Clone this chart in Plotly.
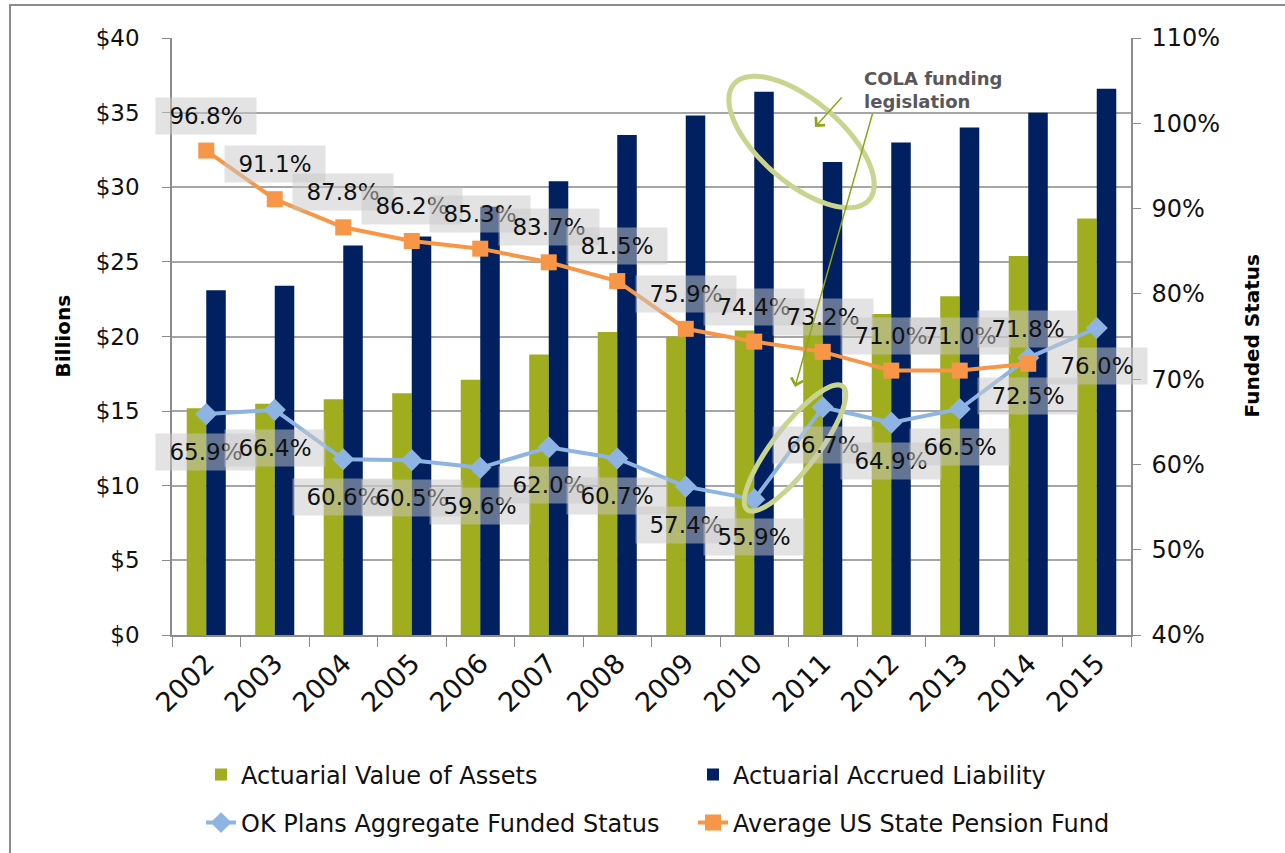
import numpy as np
import plotly.graph_objects as go

# ---------------- data ----------------
years = ["2002", "2003", "2004", "2005", "2006", "2007", "2008",
         "2009", "2010", "2011", "2012", "2013", "2014", "2015"]
assets = [15.2, 15.5, 15.8, 16.2, 17.1, 18.8, 20.3, 20.0, 20.4, 20.9, 21.5, 22.7, 25.4, 27.9]
liability = [23.1, 23.4, 26.1, 26.7, 28.7, 30.4, 33.5, 34.8, 36.4, 31.7, 33.0, 34.0, 35.0, 36.6]
ok_funded = [65.9, 66.4, 60.6, 60.5, 59.6, 62.0, 60.7, 57.4, 55.9, 66.7, 64.9, 66.5, 72.5, 76.0]
us_avg = [96.8, 91.1, 87.8, 86.2, 85.3, 83.7, 81.5, 75.9, 74.4, 73.2, 71.0, 71.0, 71.8, None]

left_ticks = [0, 5, 10, 15, 20, 25, 30, 35, 40]
right_ticks = [40, 50, 60, 70, 80, 90, 100, 110]

# ---------------- styling ----------------
W, H = 1285, 853
PL, PR, PT, PB = 172, 1131, 38, 635
GREEN = "#A0AD1E"
NAVY = "#00205F"
BLUE = "#8DB4E2"
ORANGE = "#F79646"
FONT = "DejaVu Sans"
OLIVE = "#8FA51B"
ELL = "#C9D48E"


def px2paper(px, py):
    return (px - PL) / (PR - PL), (PB - py) / (PB - PT)


def ellipse_path(cx, cy, a, b, ang):
    t = np.linspace(0, 2 * np.pi, 90)
    th = np.radians(ang)
    xs = cx + a * np.cos(t) * np.cos(th) - b * np.sin(t) * np.sin(th)
    ys = cy + a * np.cos(t) * np.sin(th) + b * np.sin(t) * np.cos(th)
    pts = [px2paper(x, y) for x, y in zip(xs, ys)]
    return "M" + "L".join(f"{x:.5f},{y:.5f}" for x, y in pts) + "Z"


fig = go.Figure()
fig.add_trace(go.Bar(x=years, y=assets, name="Actuarial Value of Assets", showlegend=True,
                     marker=dict(color=GREEN, line=dict(width=0)), yaxis="y", legend="legend"))
fig.add_trace(go.Bar(x=years, y=liability, name="Actuarial Accrued Liability", showlegend=True,
                     marker=dict(color=NAVY, line=dict(width=0)), yaxis="y", legend="legend2"))
fig.add_trace(go.Scatter(x=years, y=ok_funded, name="OK Plans Aggregate Funded Status",
                         mode="lines+markers", yaxis="y2", legend="legend3", showlegend=True,
                         line=dict(color=BLUE, width=4),
                         marker=dict(symbol="diamond", size=17, color=BLUE)))
fig.add_trace(go.Scatter(x=years, y=us_avg, name="Average US State Pension Fund",
                         mode="lines+markers", yaxis="y2", legend="legend4", showlegend=True,
                         line=dict(color=ORANGE, width=4),
                         marker=dict(symbol="square", size=16, color=ORANGE)))

annotations = []
label_font = dict(family=FONT, size=23, color="#111111")
for i, v in enumerate(us_avg):
    if v is None:
        continue
    annotations.append(dict(x=i, y=v, xref="x", yref="y2", yshift=35, text=f"{v:.1f}%",
                            showarrow=False, bgcolor="rgba(200,200,200,0.5)",
                            width=98, height=34, font=label_font))
for i, v in enumerate(ok_funded):
    annotations.append(dict(x=i, y=v, xref="x", yref="y2", yshift=-38, text=f"{v:.1f}%",
                            showarrow=False, bgcolor="rgba(200,200,200,0.5)",
                            width=98, height=34, font=label_font))

# callout text and arrows
tx, ty = px2paper(862, 66)
annotations.append(dict(x=tx, y=ty, xref="paper", yref="paper", xanchor="left", yanchor="top",
                        align="left", showarrow=False, text="COLA funding<br>legislation",
                        font=dict(family=FONT, size=18, color="#58585C", weight="bold")))
hx, hy = px2paper(815, 127)
annotations.append(dict(x=hx, y=hy, xref="paper", yref="paper", ax=28, ay=-31, text="",
                        showarrow=True, arrowhead=4, arrowsize=1.6, arrowwidth=1.5,
                        arrowcolor=OLIVE, standoff=0))
hx2, hy2 = px2paper(795, 387)
annotations.append(dict(x=hx2, y=hy2, xref="paper", yref="paper", ax=78, ay=-275, text="",
                        showarrow=True, arrowhead=4, arrowsize=1.6, arrowwidth=1.5,
                        arrowcolor=OLIVE, standoff=0))

# axis titles
bx, by = px2paper(62, 337)
annotations.append(dict(x=bx, y=0.5, xref="paper", yref="paper", xanchor="center", yanchor="middle",
                        textangle=-90, showarrow=False, text="Billions",
                        font=dict(family=FONT, size=20, color="black", weight="bold")))
fx, fy = px2paper(1251, 337)
annotations.append(dict(x=fx, y=0.5, xref="paper", yref="paper", xanchor="center", yanchor="middle",
                        textangle=-90, showarrow=False, text="Funded Status",
                        font=dict(family=FONT, size=20, color="black", weight="bold")))

# border and ellipses
bx0, by0 = px2paper(10, 5)
bx1, by1 = px2paper(1300, 870)
shapes = [
    dict(type="rect", xref="paper", yref="paper", x0=bx0, y0=by1, x1=bx1, y1=by0,
         line=dict(color="#8C8C8C", width=2), layer="below"),
    dict(type="path", xref="paper", yref="paper", path=ellipse_path(801.5, 142, 89, 41, 40.6),
         line=dict(color=ELL, width=5)),
    dict(type="path", xref="paper", yref="paper", path=ellipse_path(795, 448, 78, 22, -52.3),
         line=dict(color=ELL, width=5)),
]


def legend_at(px, py):
    x, y = px2paper(px, py)
    return dict(orientation="h", x=x, y=y, xanchor="left", yanchor="middle", visible=True,
                font=dict(size=24, family=FONT, color="#111111"), bgcolor="rgba(0,0,0,0)")


fig.update_layout(
    width=W, height=H,
    showlegend=True,
    margin=dict(l=PL, r=W - PR, t=PT, b=H - PB, autoexpand=False),
    paper_bgcolor="white", plot_bgcolor="white",
    barmode="group", bargap=0.43, bargroupgap=0,
    font=dict(family=FONT, color="#111111"),
    xaxis=dict(type="category", tickangle=-45, tickfont=dict(size=27, family=FONT, color="#111111"),
               ticks="outside", tickson="boundaries", ticklen=10, tickcolor="#8C8C8C",
               showline=True, linecolor="#8C8C8C", linewidth=1.5, showgrid=False,
               range=[-0.5, 13.5]),
    yaxis=dict(range=[0, 40], tickvals=left_ticks, ticktext=[f"${v}" for v in left_ticks],
               tickfont=dict(size=23, family=FONT, color="#111111"),
               showgrid=True, gridcolor="#A6A6A6", gridwidth=1.5,
               showline=True, linecolor="#8C8C8C", linewidth=1.5,
               ticks="outside", ticklen=8, tickcolor="#8C8C8C", ticklabelstandoff=18,
               zeroline=False),
    yaxis2=dict(range=[40, 110], tickvals=right_ticks, ticktext=[f"{v}%" for v in right_ticks],
                overlaying="y", side="right",
                tickfont=dict(size=24, family=FONT, color="#111111"),
                showgrid=False, showline=True, linecolor="#8C8C8C", linewidth=1.5,
                ticks="outside", ticklen=8, tickcolor="#8C8C8C", ticklabelstandoff=6,
                zeroline=False),
    legend=legend_at(201, 775),
    legend2=legend_at(693, 775),
    legend3=legend_at(201, 823),
    legend4=legend_at(693, 823),
    annotations=annotations,
    shapes=shapes,
)

fig.write_html("out.html", config={"displayModeBar": False},
               post_script="document.body.style.margin='0';document.body.style.overflow='hidden';")
